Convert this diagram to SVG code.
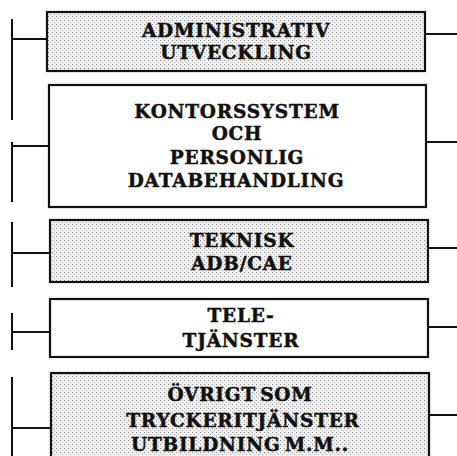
<svg xmlns="http://www.w3.org/2000/svg" width="457" height="456" viewBox="0 0 457 456">
<defs>
<pattern id="stip" width="4" height="4" patternUnits="userSpaceOnUse">
<rect width="4" height="4" fill="#f0f0f0"/>
<rect x="0" y="0" width="1" height="1" fill="#8a8a8a"/>
<rect x="2" y="2" width="1" height="1" fill="#b0b0b0"/>
</pattern>
</defs>
<style>
.box{stroke:#111;stroke-width:2.2}
.shaded{fill:url(#stip)}
.plain{fill:#fff}
.lbl{font-family:"DejaVu Serif","Liberation Serif",serif;font-weight:bold;font-size:18.5px;letter-spacing:0.8px;word-spacing:-3px;fill:#111;stroke:#111;stroke-width:0.5px;text-anchor:middle}
.ln{stroke:#111;stroke-width:2;fill:none}
</style>
<rect width="457" height="456" fill="#fff"/>
<g id="connectors">
<path class="ln" d="M12 19V120M12 142V202M12 222V287M12 313V350M12 377V456"/>
<path class="ln" d="M12 39H47M12 146H49M12 253H50M12 332H50M12 428H51"/>
<path class="ln" d="M425 34H457M426 142H457M428 248H457M428 327H457M429 415H457"/>
</g>
<g id="n1">
<rect class="box shaded" x="47" y="12" width="378" height="59"/>
<text class="lbl" x="236" y="37">ADMINISTRATIV</text>
<text class="lbl" x="236" y="59">UTVECKLING</text>
</g>
<g id="n2">
<rect class="box plain" x="49" y="85" width="377" height="122"/>
<text class="lbl" x="237" y="118">KONTORSSYSTEM</text>
<text class="lbl" x="237" y="140">OCH</text>
<text class="lbl" x="237" y="164">PERSONLIG</text>
<text class="lbl" x="236" y="187">DATABEHANDLING</text>
</g>
<g id="n3">
<rect class="box shaded" x="50" y="220" width="378" height="62"/>
<text class="lbl" x="242" y="247">TEKNISK</text>
<text class="lbl" x="242" y="270">ADB/CAE</text>
</g>
<g id="n4">
<rect class="box plain" x="50" y="299" width="378" height="58"/>
<text class="lbl" x="241" y="322">TELE-</text>
<text class="lbl" x="241" y="347">TJÄNSTER</text>
</g>
<g id="n5">
<rect class="box shaded" x="51" y="373" width="378" height="90"/>
<text class="lbl" x="240" y="401">ÖVRIGT SOM</text>
<text class="lbl" x="243" y="427">TRYCKERITJÄNSTER</text>
<text class="lbl" x="240" y="451">UTBILDNING M.M..</text>
</g>
</svg>
